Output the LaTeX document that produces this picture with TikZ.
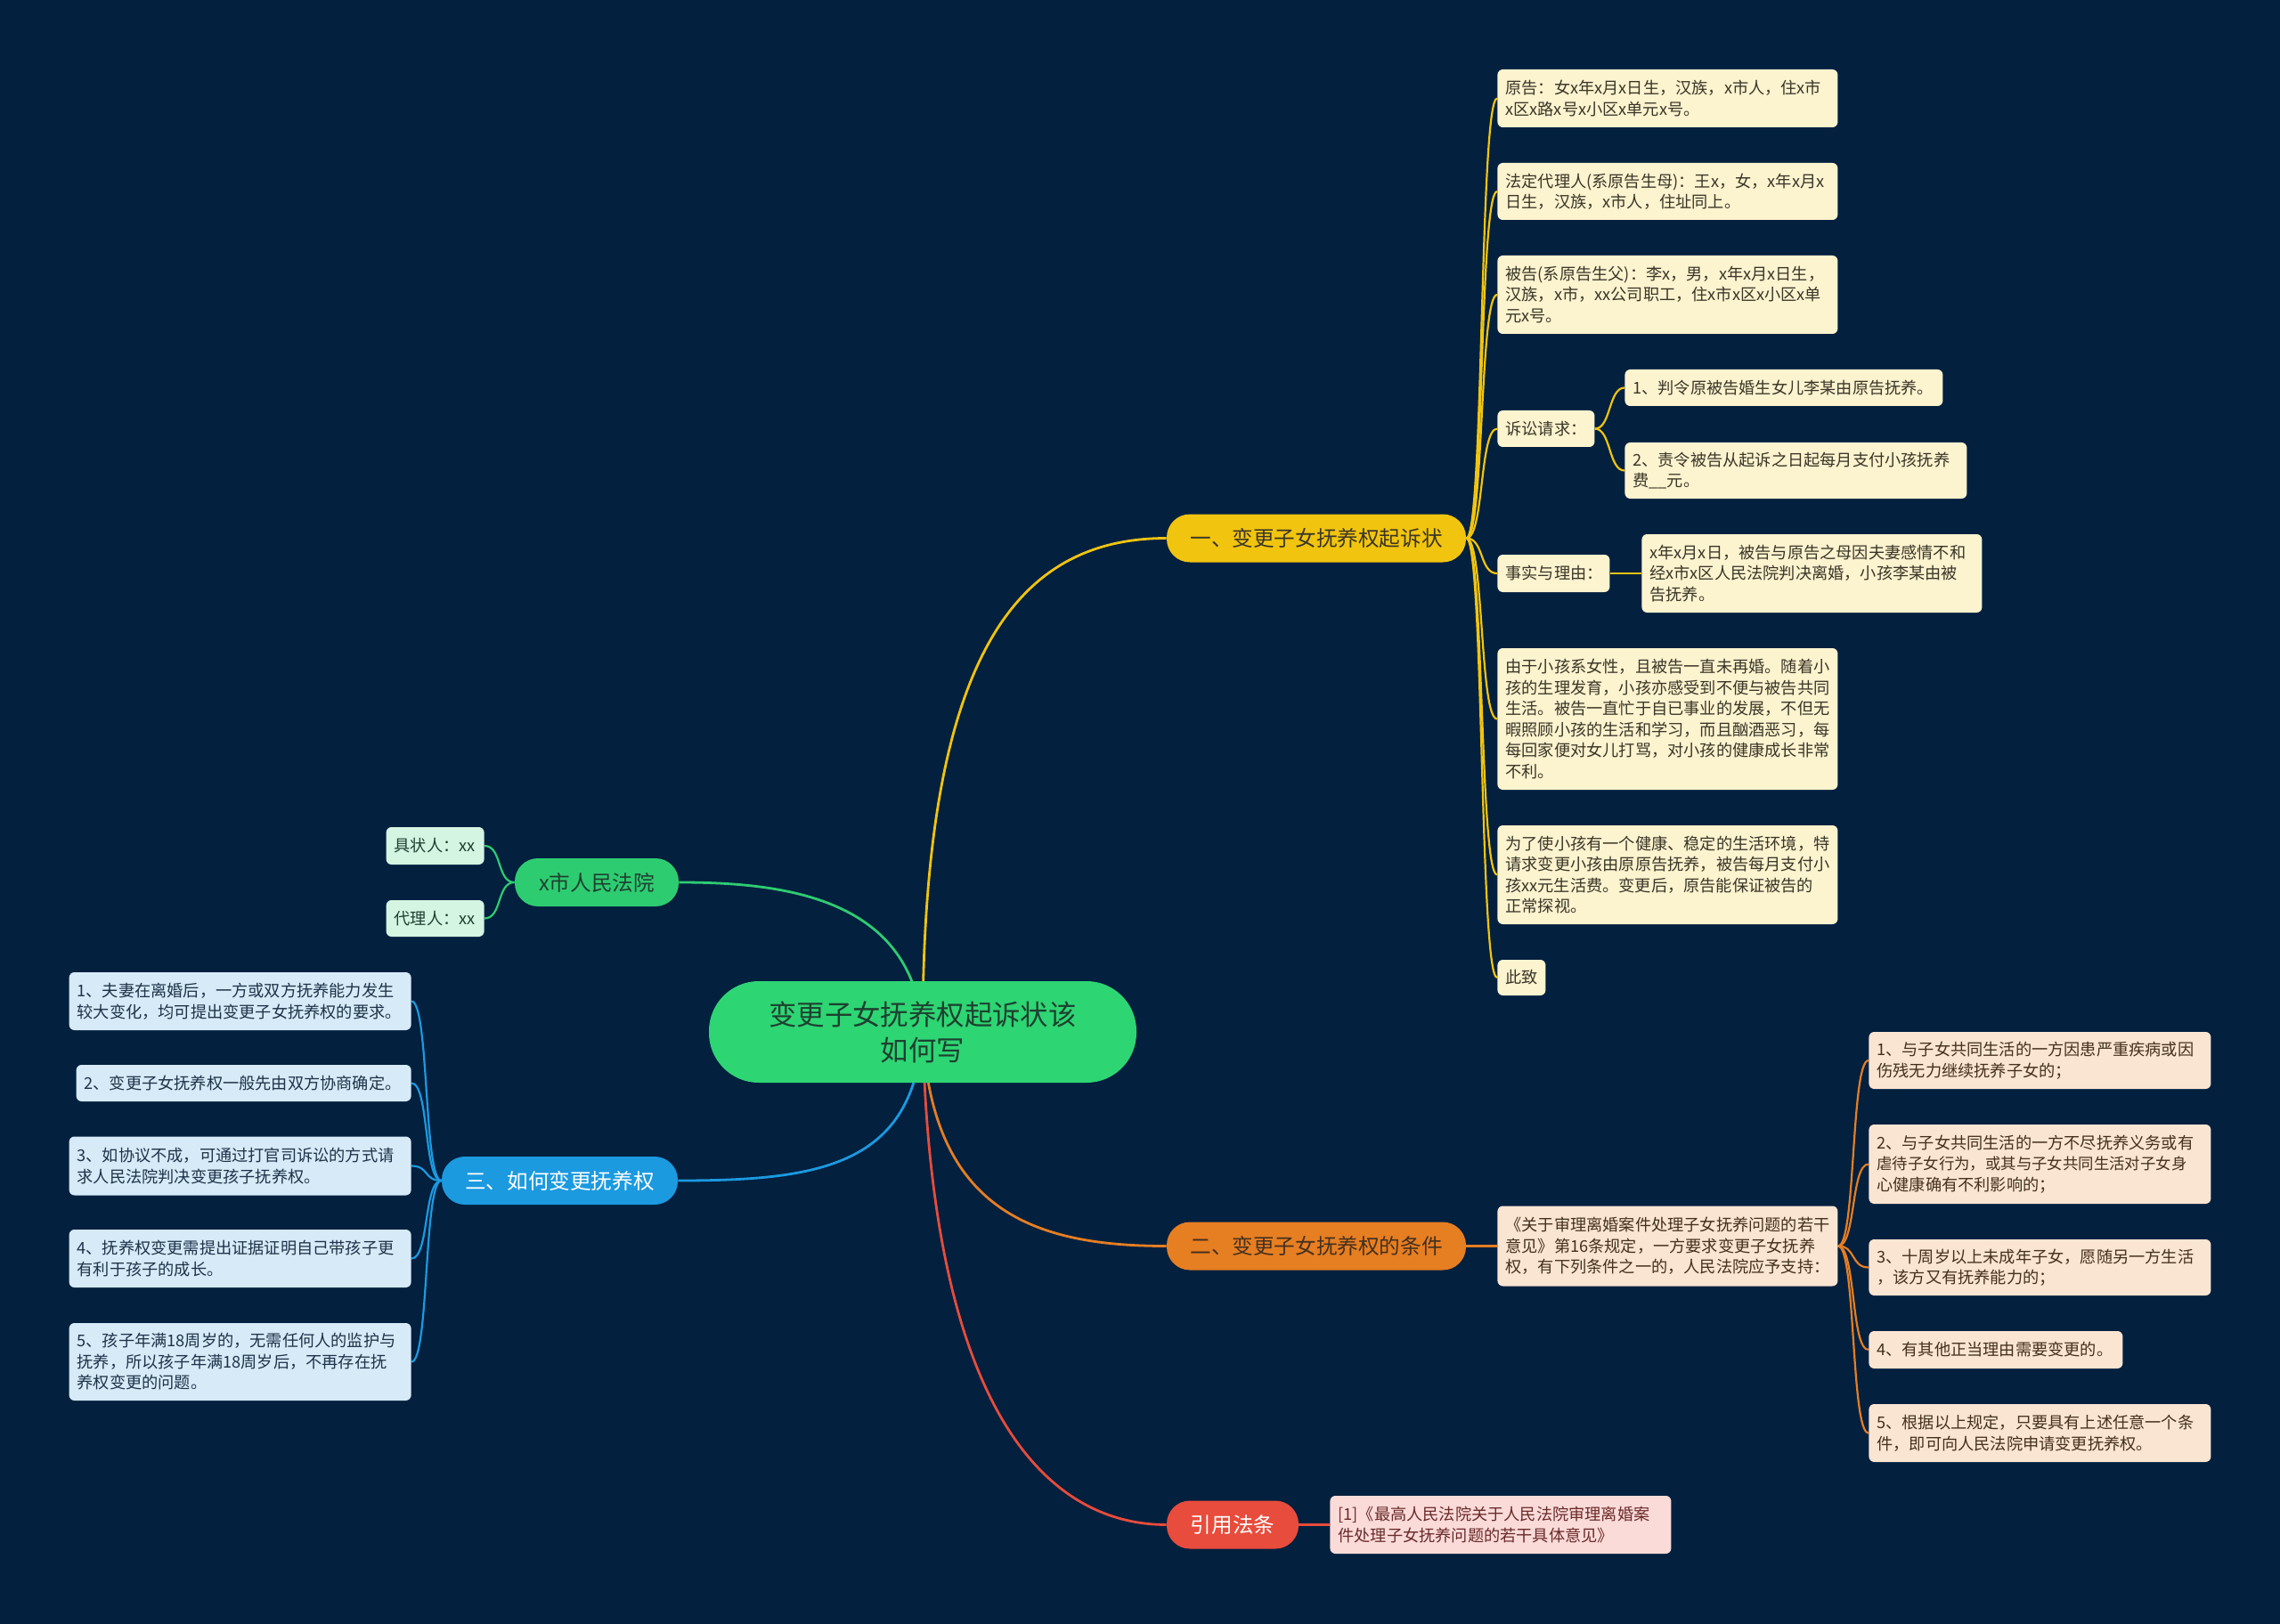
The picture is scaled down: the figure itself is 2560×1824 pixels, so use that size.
\documentclass[tikz,border=0pt]{standalone}
\usepackage{fontspec}
\setmainfont{Noto Sans CJK SC}
\pgfdeclarelayer{bg}
\pgfdeclarelayer{edges}
\pgfsetlayers{bg,edges,main}
\definecolor{bgc}{HTML}{03203F}
\definecolor{cgreen}{HTML}{2ED573}
\definecolor{cyel}{HTML}{F1C40F}
\definecolor{corg}{HTML}{E67E22}
\definecolor{cred}{HTML}{E74C3C}
\definecolor{cblue}{HTML}{1B9AE0}
\definecolor{cgrn}{HTML}{2ECC71}
\definecolor{fyel}{HTML}{FCF3CF}
\definecolor{forg}{HTML}{FAE5D3}
\definecolor{fred}{HTML}{FADBD8}
\definecolor{fblue}{HTML}{D6EAF8}
\definecolor{fgrn}{HTML}{D5F5E3}
\definecolor{tyel}{HTML}{3A3527}
\definecolor{torg}{HTML}{45301E}
\definecolor{tred}{HTML}{6A2A2A}
\definecolor{tblue}{HTML}{1E3348}
\definecolor{tgrn}{HTML}{1D4030}
\tikzset{
  leafbox/.style={rounded corners=3pt, inner xsep=4.5pt, inner ysep=2pt, anchor=west, align=left,
    font=\fontsize{9.1}{11.75}\selectfont},
  ybox/.style={leafbox, fill=fyel, text=tyel},
  obox/.style={leafbox, fill=forg, text=torg},
  rbox/.style={leafbox, fill=fred, text=tred},
  bbox/.style={leafbox, fill=fblue, text=tblue, anchor=east},
  gbox/.style={leafbox, fill=fgrn, text=tgrn, anchor=east},
  pill/.style={rounded corners=13pt, inner sep=0pt, minimum height=27pt, font=\fontsize{11.8}{14}\selectfont},
  mainline/.style={line width=1.4pt},
  subline/.style={line width=1.1pt},
}
\begin{document}
\begin{tikzpicture}[x=0.5pt,y=-0.5pt]
\begin{pgfonlayer}{bg}
\fill[bgc] (0,0) rectangle (2560,1824);
\end{pgfonlayer}

% central
\node[rounded corners=28pt, minimum width=240pt, minimum height=57pt, fill=cgreen, text=tgrn, align=center,
  font=\fontsize{15.7}{20}\selectfont, inner sep=0pt] (c) at (1036,1159) {变更子女抚养权起诉状该\\如何写};

% branches
\node[pill, minimum width=168pt, fill=cyel, text=tyel] (b1) at (1478,604.5) {一、变更子女抚养权起诉状};
\node[pill, minimum width=168pt, fill=corg, text=torg] (b2) at (1478,1399.5) {二、变更子女抚养权的条件};
\node[pill, minimum width=74pt, fill=cred, text=white] (b3) at (1384,1712.5) {引用法条};
\node[pill, minimum width=132.5pt, fill=cblue, text=white] (b4) at (628.5,1326) {三、如何变更抚养权};
\node[pill, minimum width=92pt, fill=cgrn, text=tgrn] (b5) at (670,991) {x市人民法院};

% yellow leaves
\node[ybox, text width=182pt, minimum height=32.5pt] (y1) at (1681,110.5) {原告：女x年x月x日生，汉族，x市人，住x市\\x区x路x号x小区x单元x号。};
\node[ybox, text width=182pt, minimum height=32pt] (y2) at (1681,215) {法定代理人(系原告生母)：王x，女，x年x月x\\日生，汉族，x市人，住址同上。};
\node[ybox, text width=182pt, minimum height=44pt] (y3) at (1681,331) {被告(系原告生父)：李x，男，x年x月x日生，\\汉族，x市，xx公司职工，住x市x区x小区x单\\元x号。};
\node[ybox, text width=45.5pt, minimum height=20.5pt] (y4) at (1681,481.5) {诉讼请求：};
\node[ybox, text width=169.5pt, minimum height=20.5pt] (y4a) at (1824,435.5) {1、判令原被告婚生女儿李某由原告抚养。};
\node[ybox, text width=183pt, minimum height=31.5pt] (y4b) at (1824,528.5) {2、责令被告从起诉之日起每月支付小孩抚养\\费\_\_元。};
\node[ybox, text width=54pt, minimum height=21pt] (y5) at (1681,644) {事实与理由：};
\node[ybox, text width=182pt, minimum height=44pt] (y5a) at (1843,644) {x年x月x日，被告与原告之母因夫妻感情不和\\经x市x区人民法院判决离婚，小孩李某由被\\告抚养。};
\node[ybox, text width=182pt, minimum height=79.5pt] (y6) at (1681,807.5) {由于小孩系女性，且被告一直未再婚。随着小\\孩的生理发育，小孩亦感受到不便与被告共同\\生活。被告一直忙于自已事业的发展，不但无\\暇照顾小孩的生活和学习，而且酗酒恶习，每\\每回家便对女儿打骂，对小孩的健康成长非常\\不利。};
\node[ybox, text width=182pt, minimum height=55.5pt] (y7) at (1681,982.5) {为了使小孩有一个健康、稳定的生活环境，特\\请求变更小孩由原原告抚养，被告每月支付小\\孩xx元生活费。变更后，原告能保证被告的\\正常探视。};
\node[ybox, text width=18pt, minimum height=20pt] (y8) at (1681,1098) {此致};

% orange leaves
\node[obox, text width=182pt, minimum height=45pt] (o0) at (1681,1399.5) {《关于审理离婚案件处理子女抚养问题的若干\\意见》第16条规定，一方要求变更子女抚养\\权，有下列条件之一的，人民法院应予支持：};
\node[obox, text width=183pt, minimum height=32pt] (o1) at (2098,1191) {1、与子女共同生活的一方因患严重疾病或因\\伤残无力继续抚养子女的；};
\node[obox, text width=183pt, minimum height=44.5pt] (o2) at (2098,1307.5) {2、与子女共同生活的一方不尽抚养义务或有\\{\fontsize{8.7}{11.75}\selectfont 虐待子女行为，或其与子女共同生活对子女身}\\心健康确有不利影响的；};
\node[obox, text width=183pt, minimum height=31.5pt] (o3) at (2098,1423.5) {3、十周岁以上未成年子女，愿随另一方生活\\，该方又有抚养能力的；};
\node[obox, text width=133.5pt, minimum height=21pt] (o4) at (2098,1516) {4、有其他正当理由需要变更的。};
\node[obox, text width=183pt, minimum height=32.5pt] (o5) at (2098,1609.5) {5、根据以上规定，只要具有上述任意一个条\\件，即可向人民法院申请变更抚养权。};

% red leaf
\node[rbox, text width=182.5pt, minimum height=32.5pt] (r1) at (1493,1712.5) {[1]《最高人民法院关于人民法院审理离婚案\\件处理子女抚养问题的若干具体意见》};

% blue leaves
\node[bbox, text width=183pt, minimum height=32.5pt] (l1) at (462,1124.5) {1、夫妻在离婚后，一方或双方抚养能力发生\\较大变化，均可提出变更子女抚养权的要求。};
\node[bbox, text width=179pt, minimum height=20.5pt] (l2) at (462,1216.5) {2、变更子女抚养权一般先由双方协商确定。};
\node[bbox, text width=183pt, minimum height=33pt] (l3) at (462,1309.5) {3、如协议不成，可通过打官司诉讼的方式请\\求人民法院判决变更孩子抚养权。};
\node[bbox, text width=183pt, minimum height=32.5pt] (l4) at (462,1413.5) {4、抚养权变更需提出证据证明自己带孩子更\\有利于孩子的成长。};
\node[bbox, text width=183pt, minimum height=43.5pt] (l5) at (462,1529.5) {5、孩子年满18周岁的，无需任何人的监护与\\抚养，所以孩子年满18周岁后，不再存在抚\\养权变更的问题。};

% green leaves
\node[gbox, text width=46pt, minimum height=21pt] (g1) at (544,950) {具状人：xx};
\node[gbox, text width=46pt, minimum height=20.5pt] (g2) at (544,1031.5) {代理人：xx};

\begin{pgfonlayer}{edges}
% central connectors
\draw[mainline, cyel] (c.center) .. controls +(0,-420) and +(-170,0) .. (b1.west);
\draw[mainline, cgrn] (c.center) .. controls +(-10,-150) and +(120,0) .. (b5.east);
\draw[mainline, cblue] (c.center) .. controls +(-10,150) and +(160,0) .. (b4.east);
\draw[mainline, corg] (c.center) .. controls +(10,200) and +(-150,0) .. (b2.west);
\draw[mainline, cred] (c.center) .. controls +(10,450) and +(-120,0) .. (b3.west);
% yellow
\foreach \n in {y1,y2,y3,y4,y5,y6,y7,y8}
  \draw[subline, cyel] (b1.east) .. controls +(20,0) and +(-20,0) .. (\n.west);
\draw[subline, cyel] (y4.east) .. controls +(18,0) and +(-18,0) .. (y4a.west);
\draw[subline, cyel] (y4.east) .. controls +(18,0) and +(-18,0) .. (y4b.west);
\draw[subline, cyel] (y5.east) -- (y5a.west);
% orange
\draw[subline, corg] (b2.east) -- (o0.west);
\foreach \n in {o1,o2,o3,o4,o5}
  \draw[subline, corg] (o0.east) .. controls +(20,0) and +(-20,0) .. (\n.west);
% red
\draw[subline, cred] (b3.east) -- (r1.west);
% blue
\foreach \n in {l1,l2,l3,l4,l5}
  \draw[subline, cblue] (b4.west) .. controls +(-20,0) and +(20,0) .. (\n.east);
% green
\foreach \n in {g1,g2}
  \draw[subline, cgrn] (b5.west) .. controls +(-20,0) and +(20,0) .. (\n.east);
\end{pgfonlayer}
\end{tikzpicture}
\end{document}
